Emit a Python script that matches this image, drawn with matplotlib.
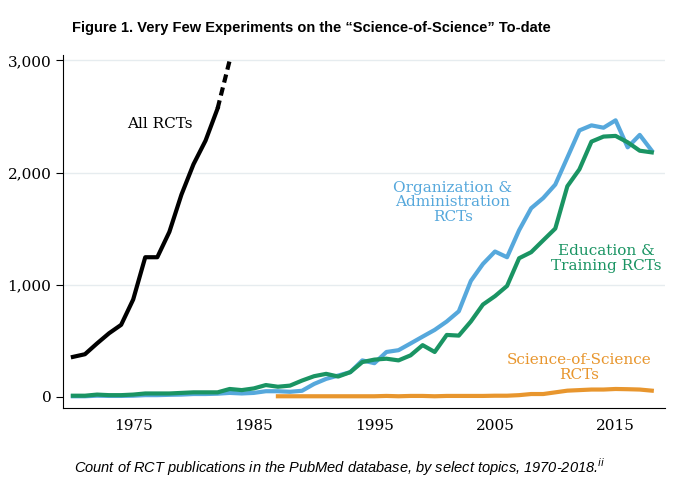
import matplotlib
matplotlib.use("Agg")
import matplotlib.pyplot as plt
import numpy as np

years_all = list(range(1970, 1984))
all_rcts = [356, 380, 476, 567, 642, 868, 1245, 1245, 1471, 1803, 2074, 2285, 2572, 3000]

years = list(range(1970, 2019))
org = [5, 5, 10, 8, 8, 10, 15, 15, 18, 20, 25, 25, 28, 35, 30, 35, 50, 50, 45, 54,
       115, 160, 190, 220, 325, 300, 400, 416, 476, 537, 597, 672, 763, 1034, 1185, 1296, 1245, 1486, 1682, 1773,
       1893, 2134, 2376, 2421, 2400, 2466, 2225, 2336, 2195]
edu = [10, 10, 20, 15, 15, 20, 30, 30, 30, 35, 40, 40, 40, 70, 60, 75, 105, 90, 100, 145,
       184, 205, 181, 220, 310, 332, 340, 325, 370, 461, 400, 552, 546, 672, 823, 898, 989, 1236, 1290, 1396,
       1501, 1878, 2029, 2276, 2321, 2327, 2270, 2195, 2180]
years_sos = list(range(1987, 2019))
sos = [5, 5, 5, 5, 5, 5, 5, 5, 5, 8, 5, 8, 8, 5, 8, 8, 8, 8, 10, 10,
       15, 25, 25, 40, 55, 60, 65, 65, 70, 68, 65, 55]

serif = "DejaVu Serif"
fig = plt.figure(figsize=(6.8, 4.94), dpi=100)
ax = fig.add_axes([0.093, 0.174, 0.885, 0.715])
for y in [1000, 2000, 3000]:
    ax.axhline(y, color="#e6ecef", lw=1, zorder=0)
ax.plot(years, org, color="#56a8dc", lw=3, zorder=2)
ax.plot(years, edu, color="#1a9463", lw=3, zorder=3)
ax.plot(years_sos, sos, color="#e8962e", lw=3, zorder=3)
ax.plot(years_all[:-1], all_rcts[:-1], color="black", lw=3, zorder=4)
ax.plot(years_all[-2:], all_rcts[-2:], color="black", lw=3, ls=(0, (2, 1.2)), zorder=4)

ax.set_xlim(1969.2, 2019.1)
ax.set_ylim(-100, 3050)
ax.set_xticks([1975, 1985, 1995, 2005, 2015])
ax.set_yticks([0, 1000, 2000, 3000])
ax.set_yticklabels(["0", "1,000", "2,000", "3,000"])
for s in ["top", "right"]:
    ax.spines[s].set_visible(False)
for lab in ax.get_xticklabels() + ax.get_yticklabels():
    lab.set_fontfamily(serif)
    lab.set_fontsize(11)
ax.tick_params(axis="x", length=0, pad=8)
ax.tick_params(axis="y", length=5)

ax.text(1977.2, 2400, "All RCTs", fontfamily=serif, fontsize=11, color="black", ha="center")
ax.text(2001.5, 1570, "Organization &\nAdministration\nRCTs", fontfamily=serif, fontsize=11,
        color="#56a8dc", ha="center", linespacing=1.05)
ax.text(2014.2, 1130, "Education &\nTraining RCTs", fontfamily=serif, fontsize=11,
        color="#1a9463", ha="center", linespacing=1.1)
ax.text(2012.0, 160, "Science-of-Science\nRCTs", fontfamily=serif, fontsize=11,
        color="#e8962e", ha="center", linespacing=1.05)

fig.text(0.106, 0.943, "Figure 1. Very Few Experiments on the \u201cScience-of-Science\u201d To-date",
         fontsize=10.5, fontweight="bold", va="center", fontfamily="Liberation Sans")
fig.text(0.5, 0.055, "Count of RCT publications in the PubMed database, by select topics, 1970-2018.$^{ii}$",
         fontsize=10.5, style="italic", ha="center", va="center", fontfamily="Liberation Sans")
fig.savefig("out.png", dpi=100)
